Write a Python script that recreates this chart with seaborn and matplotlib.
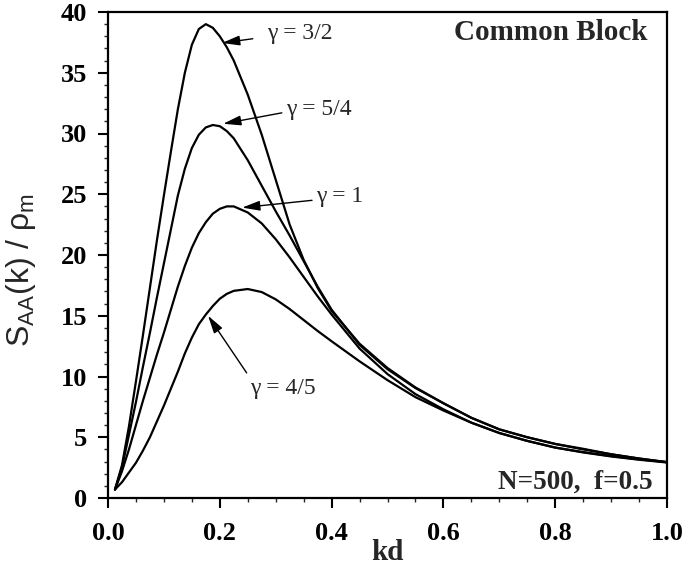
import numpy as np
import pandas as pd
import matplotlib
matplotlib.use("Agg")
import matplotlib.pyplot as plt
import seaborn as sns
from matplotlib.ticker import MultipleLocator, FormatStrFormatter

# ---- data ----
kd = [0.0125, 0.025, 0.0375, 0.05, 0.0625, 0.075, 0.0875, 0.1, 0.1125, 0.125,
      0.1375, 0.15, 0.1625, 0.175, 0.1875, 0.2, 0.2125, 0.225, 0.25, 0.275,
      0.3, 0.325, 0.35, 0.375, 0.4, 0.45, 0.5, 0.55, 0.6, 0.65, 0.7, 0.75,
      0.8, 0.85, 0.9, 0.95, 1.0]

s_g32 = [0.7, 2.7, 5.9, 9.6, 13.4, 17.3, 21.2, 24.9, 28.5, 32.0,
         35.0, 37.3, 38.6, 39.0, 38.7, 38.0, 37.1, 36.0, 33.2, 29.9,
         26.2, 22.5, 19.6, 17.3, 15.4, 12.7, 10.7, 9.1, 7.8, 6.6, 5.65, 5.0,
         4.45, 4.05, 3.6, 3.25, 2.95]

s_g54 = [0.7, 2.5, 5.2, 7.9, 10.8, 13.6, 16.5, 19.3, 22.1, 24.9,
         27.1, 28.8, 29.9, 30.5, 30.7, 30.6, 30.2, 29.6, 27.8, 25.7,
         23.6, 21.6, 19.5, 17.4, 15.5, 12.6, 10.6, 9.05, 7.8, 6.6, 5.65, 5.0,
         4.45, 4.0, 3.6, 3.25, 2.95]

s_g1 = [0.7, 2.2, 4.0, 6.0, 8.0, 9.9, 11.8, 13.6, 15.5, 17.4,
        19.1, 20.6, 21.8, 22.7, 23.4, 23.8, 24.0, 24.0, 23.5, 22.6,
        21.3, 19.8, 18.2, 16.6, 15.1, 12.3, 10.2, 8.55, 7.3, 6.2, 5.35, 4.7,
        4.15, 3.78, 3.45, 3.18, 2.95]

s_g45 = [0.7, 1.3, 2.1, 2.9, 3.9, 5.0, 6.3, 7.6, 9.0, 10.4,
         11.9, 13.2, 14.3, 15.1, 15.8, 16.4, 16.8, 17.05, 17.2, 16.95,
         16.35, 15.55, 14.65, 13.75, 12.9, 11.25, 9.7, 8.3, 7.2, 6.2, 5.35, 4.7,
         4.15, 3.75, 3.42, 3.15, 2.92]

gammas = ["3/2", "5/4", "1", "4/5"]
series = [s_g32, s_g54, s_g1, s_g45]

x_ticks = [0.0, 0.2, 0.4, 0.6, 0.8, 1.0]
y_ticks = [0, 5, 10, 15, 20, 25, 30, 35, 40]

# annotation anchors: (arrow head x, y), (arrow tail x, y), (text x, y)
ann_head = [(0.204, 37.45), (0.206, 30.8), (0.240, 23.9), (0.179, 15.0)]
ann_tail = [(0.259, 37.8), (0.311, 31.7), (0.365, 24.5), (0.248, 10.3)]
ann_text = [(0.284, 38.2), (0.318, 32.0), (0.372, 24.8), (0.254, 9.0)]

df = pd.concat([pd.DataFrame({"kd": kd, "S": s, "gamma": g})
                for g, s in zip(gammas, series)], ignore_index=True)

# ---- style ----
sns.set_theme(style="ticks")
plt.rcParams["font.family"] = ["Liberation Serif", "DejaVu Serif"]
plt.rcParams["mathtext.fontset"] = "custom"
plt.rcParams["mathtext.rm"] = "Liberation Sans"
plt.rcParams["mathtext.it"] = "Liberation Sans"

fig = plt.figure(figsize=(6.86, 5.74), dpi=100)
ax = fig.add_axes([108 / 686, 1 - 498 / 574, (667 - 108) / 686, (498 - 12) / 574])

sns.lineplot(data=df, x="kd", y="S", units="gamma", estimator=None,
             color="black", linewidth=1.6, ax=ax, sort=False)

ax.set_xlim(0, 1.0)
ax.set_ylim(0, 40)
ax.set_xticks(x_ticks)
ax.set_yticks(y_ticks)
ax.xaxis.set_major_formatter(FormatStrFormatter("%.1f"))
ax.xaxis.set_minor_locator(MultipleLocator(0.05))
ax.yaxis.set_minor_locator(MultipleLocator(1))

for sp in ax.spines.values():
    sp.set_linewidth(1.6)
    sp.set_color("black")

ax.tick_params(which="major", direction="out", length=7, width=1.5,
               labelsize=19, colors="black")
ax.tick_params(axis="x", which="major", pad=10)
ax.tick_params(axis="y", which="major", pad=8)
ax.tick_params(which="minor", direction="out", length=3, width=1.0)
for lab in ax.get_xticklabels() + ax.get_yticklabels():
    lab.set_fontweight("bold")

ax.set_xlabel("kd", fontsize=21, fontweight="bold")
ax.xaxis.set_label_coords(0.5, -0.085)
ax.set_ylabel(r"$\mathrm{S_{AA}(k)\ /\ \rho_{m}}$", fontsize=23)
ax.yaxis.set_label_coords(-0.125, 0.47)

for g, h, t, tx in zip(gammas, ann_head, ann_tail, ann_text):
    ax.annotate("", xy=h, xytext=t,
                arrowprops=dict(arrowstyle="-|>,head_length=0.9,head_width=0.25",
                                color="black", lw=1.0, shrinkA=0, shrinkB=0))
    ax.text(tx[0], tx[1], "\u03b3 = " + g, fontsize=17, ha="left", va="center",
            family=["Liberation Serif", "DejaVu Serif"])

ax.text(0.966, 38.35, "Common Block", fontsize=21, fontweight="bold",
        ha="right", va="center")
ax.text(0.975, 1.3, "N=500,  f=0.5", fontsize=19.5, fontweight="bold",
        ha="right", va="center")

fig.savefig("out.png", dpi=100)
